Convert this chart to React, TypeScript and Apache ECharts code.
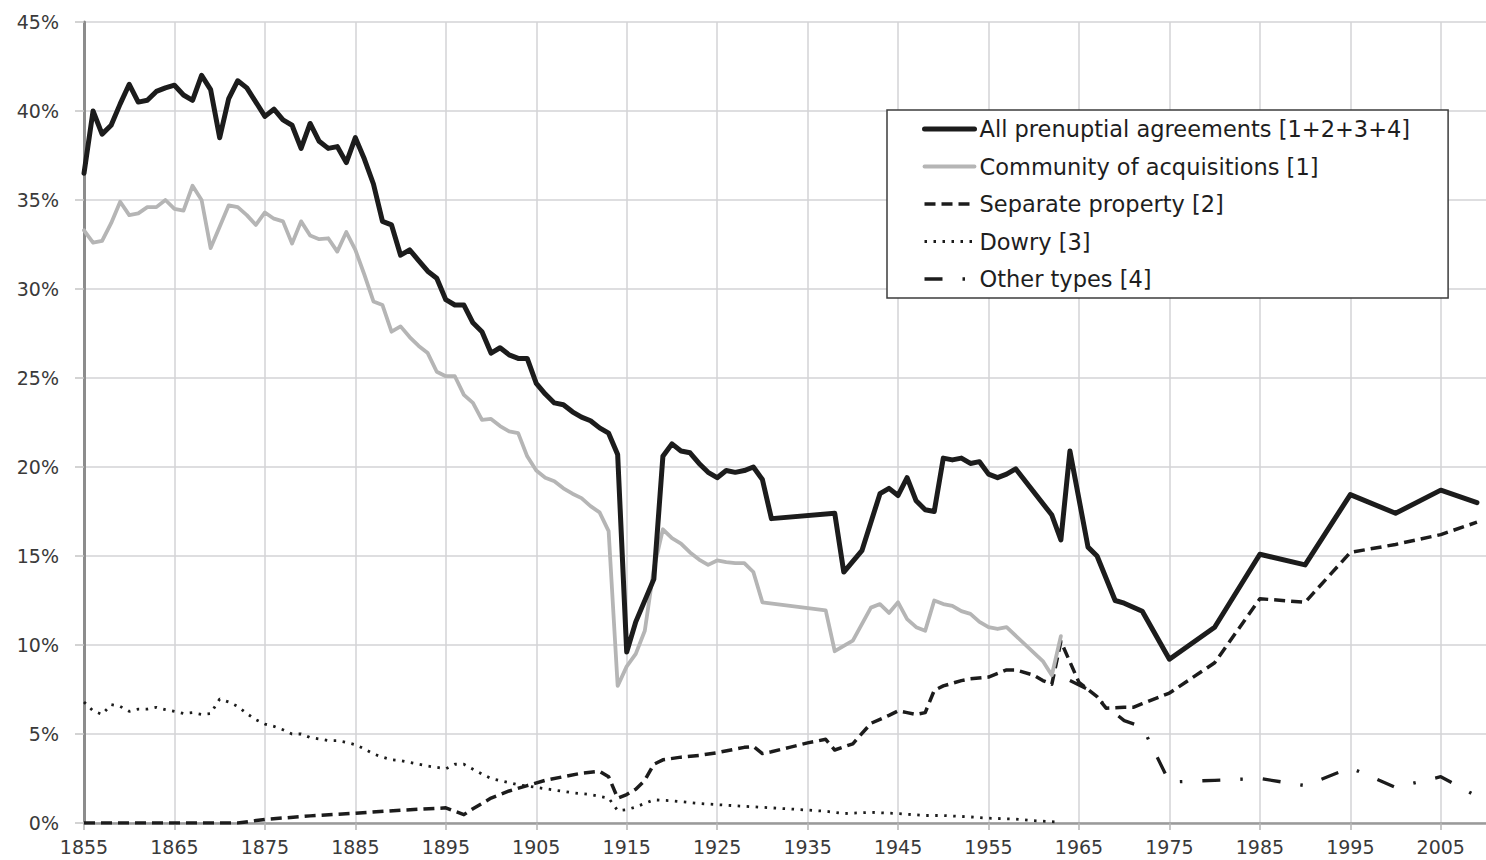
import React, { useEffect, useRef } from "react";
import * as echarts from "echarts";

// ---- Data ----
const seriesNames = [
  "All prenuptial agreements [1+2+3+4]",
  "Community of acquisitions [1]",
  "Separate property [2]",
  "Dowry [3]",
  "Other types [4]",
];

const yTickLabels = ["0%", "5%", "10%", "15%", "20%", "25%", "30%", "35%", "40%", "45%"];

const allYears = [
  1855, 1856, 1857, 1858, 1859, 1860, 1861, 1862, 1863, 1864, 1865, 1866, 1867, 1868, 1869,
  1870, 1871, 1872, 1873, 1874, 1875, 1876, 1877, 1878, 1879, 1880, 1881, 1882, 1883, 1884,
  1885, 1886, 1887, 1888, 1889, 1890, 1891, 1892, 1893, 1894, 1895, 1896, 1897, 1898, 1899,
  1900, 1901, 1902, 1903, 1904, 1905, 1906, 1907, 1908, 1909, 1910, 1911, 1912, 1913, 1914,
  1915, 1916, 1918, 1919, 1920, 1921, 1922, 1923, 1924, 1925, 1926, 1927, 1928, 1929, 1930,
  1931, 1938, 1939, 1941, 1943, 1944, 1945, 1946, 1947, 1948, 1949, 1950, 1951, 1952, 1953,
  1954, 1955, 1956, 1957, 1958, 1962, 1963, 1964, 1966, 1967, 1969, 1970, 1972, 1975, 1980,
  1985, 1990, 1995, 2000, 2005, 2009,
];
const allValues = [
  36.5, 40.0, 38.7, 39.2, 40.4, 41.5, 40.5, 40.6, 41.1, 41.3, 41.45, 40.9, 40.6, 42.0, 41.2,
  38.5, 40.7, 41.7, 41.3, 40.5, 39.7, 40.1, 39.5, 39.2, 37.9, 39.3, 38.3, 37.9, 38.0, 37.1,
  38.5, 37.3, 35.9, 33.8, 33.6, 31.9, 32.2, 31.6, 31.0, 30.6, 29.4, 29.1, 29.1, 28.1, 27.6,
  26.4, 26.7, 26.3, 26.1, 26.1, 24.7, 24.1, 23.6, 23.5, 23.1, 22.8, 22.6, 22.2, 21.9, 20.7,
  9.6, 11.3, 13.7, 20.6, 21.3, 20.9, 20.8, 20.2, 19.7, 19.4, 19.8, 19.7, 19.8, 20.0, 19.3,
  17.1, 17.4, 14.1, 15.3, 18.5, 18.8, 18.4, 19.4, 18.1, 17.6, 17.5, 20.5, 20.4, 20.5, 20.2,
  20.3, 19.6, 19.4, 19.6, 19.9, 17.3, 15.9, 20.9, 15.5, 15.0, 12.5, 12.35, 11.9, 9.2, 11.0,
  15.1, 14.5, 18.45, 17.4, 18.7, 18.0,
];

const communityYears = [
  1855, 1856, 1857, 1858, 1859, 1860, 1861, 1862, 1863, 1864, 1865, 1866, 1867, 1868, 1869,
  1870, 1871, 1872, 1873, 1874, 1875, 1876, 1877, 1878, 1879, 1880, 1881, 1882, 1883, 1884,
  1885, 1886, 1887, 1888, 1889, 1890, 1891, 1892, 1893, 1894, 1895, 1896, 1897, 1898, 1899,
  1900, 1901, 1902, 1903, 1904, 1905, 1906, 1907, 1908, 1909, 1910, 1911, 1912, 1913, 1914,
  1915, 1916, 1917, 1918, 1919, 1920, 1921, 1922, 1923, 1924, 1925, 1926, 1927, 1928, 1929,
  1930, 1937, 1938, 1940, 1942, 1943, 1944, 1945, 1946, 1947, 1948, 1949, 1950, 1951, 1952,
  1953, 1954, 1955, 1956, 1957, 1961, 1962, 1963,
];
const communityValues = [
  33.3, 32.6, 32.7, 33.7, 34.9, 34.15, 34.25, 34.6, 34.6, 35.0, 34.5, 34.4, 35.8, 35.0, 32.3,
  33.5, 34.7, 34.6, 34.15, 33.6, 34.3, 33.95, 33.8, 32.55, 33.8, 33.0, 32.8, 32.85, 32.1, 33.2,
  32.2, 30.8, 29.3, 29.1, 27.6, 27.9, 27.3, 26.8, 26.4, 25.35, 25.1, 25.1, 24.05, 23.6, 22.65,
  22.7, 22.3, 22.0, 21.9, 20.6, 19.8, 19.4, 19.2, 18.8, 18.5, 18.25, 17.8, 17.45, 16.4, 7.7,
  8.8, 9.5, 10.8, 14.3, 16.5, 16.0, 15.7, 15.2, 14.8, 14.5, 14.75, 14.65, 14.6, 14.6, 14.1,
  12.4, 11.95, 9.65, 10.25, 12.1, 12.3, 11.8, 12.4, 11.45, 11.0, 10.8, 12.5, 12.3, 12.2, 11.9,
  11.75, 11.3, 11.0, 10.9, 11.0, 9.1, 8.3, 10.5,
];

const separateYears = [
  1855, 1872, 1875, 1880, 1885, 1890, 1895, 1897, 1898, 1900, 1902, 1904, 1906, 1908, 1910,
  1912, 1913, 1914, 1915, 1916, 1917, 1918, 1919, 1921, 1923, 1925, 1928, 1929, 1930, 1931,
  1933, 1935, 1937, 1938, 1940, 1942, 1944, 1945, 1946, 1947, 1948, 1949, 1950, 1952, 1953,
  1955, 1957, 1958, 1960, 1961, 1962, 1963, 1965, 1966, 1967, 1968, 1970, 1971, 1972, 1975,
  1980, 1985, 1990, 1995, 2000, 2005, 2009,
];
const separateValues = [
  0, 0, 0.2, 0.4, 0.55, 0.72, 0.85, 0.47, 0.8, 1.4, 1.8, 2.1, 2.4, 2.6, 2.8,
  2.9, 2.6, 1.4, 1.6, 1.9, 2.4, 3.3, 3.55, 3.7, 3.8, 3.95, 4.25, 4.3, 3.9, 4.0,
  4.25, 4.5, 4.7, 4.1, 4.45, 5.6, 6.05, 6.3, 6.2, 6.1, 6.2, 7.45, 7.7, 8.0, 8.1,
  8.2, 8.6, 8.6, 8.3, 8.0, 7.8, 10.2, 7.9, 7.5, 7.1, 6.45, 6.5, 6.5, 6.7, 7.3,
  9.0, 12.6, 12.4, 15.2, 15.65, 16.2, 16.9,
];

const dowryYears = [
  1855, 1856, 1857, 1858, 1859, 1860, 1861, 1862, 1863, 1864, 1865, 1866, 1867, 1868, 1869,
  1870, 1871, 1872, 1873, 1874, 1875, 1876, 1877, 1878, 1879, 1880, 1881, 1882, 1883, 1884,
  1885, 1886, 1887, 1888, 1889, 1890, 1891, 1893, 1895, 1896, 1897, 1899, 1900, 1903, 1905,
  1907, 1909, 1911, 1913, 1914, 1915, 1916, 1918, 1920, 1923, 1925, 1927, 1930, 1933, 1937,
  1939, 1942, 1945, 1948, 1950, 1953, 1955, 1958, 1960, 1963,
];
const dowryValues = [
  6.8, 6.3, 6.1, 6.65, 6.55, 6.27, 6.4, 6.4, 6.5, 6.37, 6.27, 6.15, 6.2, 6.1, 6.15,
  6.97, 6.8, 6.55, 6.15, 5.8, 5.56, 5.43, 5.24, 5.0, 5.0, 4.8, 4.72, 4.63, 4.63, 4.53,
  4.4, 4.16, 3.88, 3.7, 3.55, 3.5, 3.4, 3.2, 3.05, 3.3, 3.3, 2.75, 2.5, 2.15, 2.0,
  1.85, 1.7, 1.6, 1.4, 0.7, 0.75, 0.9, 1.3, 1.25, 1.1, 1.03, 0.97, 0.88, 0.79, 0.66,
  0.53, 0.6, 0.53, 0.42, 0.42, 0.34, 0.27, 0.22, 0.13, 0.05,
];

const otherYears = [1964, 1966, 1967, 1970, 1972, 1975, 1980, 1985, 1990, 1995, 2000, 2005, 2009];
const otherValues = [8.0, 7.5, 7.0, 5.75, 5.4, 2.3, 2.4, 2.5, 2.1, 3.1, 2.0, 2.6, 1.5];

const pairs = (xs: number[], ys: number[]) => xs.map((x, i) => [x, ys[i]]);

const FONT = "DejaVu Sans";

export default function App() {
  const ref = useRef<HTMLDivElement>(null);

  useEffect(() => {
    if (!ref.current) return;
    const chart = echarts.init(ref.current, undefined, { renderer: "svg" });

    const lineBase = { type: "line", symbol: "none", showSymbol: false, smooth: false };

    chart.setOption({
      animation: false,
      backgroundColor: "#ffffff",
      grid: { left: 84, right: -8, top: 22, bottom: 37, containLabel: false },
      xAxis: {
        type: "value",
        min: 1855,
        max: 2010,
        interval: 10,
        axisLine: { show: true, onZero: true, lineStyle: { color: "#9a9a9a", width: 2.5 } },
        axisTick: { show: true, inside: false, length: 7, lineStyle: { color: "#b5b5b5", width: 1.5 } },
        axisLabel: {
          show: true,
          showMaxLabel: false,
          margin: 14,
          fontSize: 19,
          fontFamily: FONT,
          color: "#3a3a3a",
          formatter: (v: number) => String(v),
        },
        splitLine: { show: true, showMaxLine: false, lineStyle: { color: "#d3d3d6", width: 1.5 } },
      },
      yAxis: {
        type: "value",
        min: 0,
        max: 45,
        interval: 5,
        axisLine: { show: true, lineStyle: { color: "#8c8c8c", width: 3 } },
        axisTick: { show: true, inside: false, length: 9, lineStyle: { color: "#c4c4c4", width: 1.5 } },
        axisLabel: {
          margin: 25,
          fontSize: 19,
          fontFamily: FONT,
          color: "#3a3a3a",
          formatter: (v: number) => yTickLabels[Math.round(v / 5)] ?? `${v}%`,
        },
        splitLine: { show: true, lineStyle: { color: "#d3d3d6", width: 1.5 } },
      },
      legend: {
        show: true,
        orient: "vertical",
        left: 887,
        top: 110,
        padding: [6, 38, 6, 35],
        itemWidth: 50,
        itemHeight: 14,
        itemGap: 11.5,
        backgroundColor: "#ffffff",
        borderColor: "#3c3c3c",
        borderWidth: 1.5,
        borderRadius: 0,
        itemStyle: { color: "rgba(0,0,0,0)", borderWidth: 0, opacity: 0 },
        textStyle: { fontSize: 22.5, fontFamily: FONT, color: "#1e1e1e", lineHeight: 26 },
        data: [
          { name: seriesNames[0], lineStyle: { width: 5 } },
          { name: seriesNames[1], lineStyle: { width: 3.8 } },
          { name: seriesNames[2], lineStyle: { width: 3.5 } },
          { name: seriesNames[3], lineStyle: { width: 2.8 } },
          { name: seriesNames[4], lineStyle: { width: 3.3 } },
        ],
      },
      series: [
        {
          ...lineBase,
          name: seriesNames[0],
          data: pairs(allYears, allValues),
          color: "#1c1c1c",
          lineStyle: { color: "#1c1c1c", width: 5, cap: "round", join: "round" },
          z: 6,
        },
        {
          ...lineBase,
          name: seriesNames[1],
          data: pairs(communityYears, communityValues),
          color: "#b5b5b5",
          lineStyle: { color: "#b5b5b5", width: 3.8, cap: "round", join: "round" },
          z: 5,
        },
        {
          ...lineBase,
          name: seriesNames[2],
          data: pairs(separateYears, separateValues),
          color: "#1c1c1c",
          lineStyle: { color: "#1c1c1c", width: 3.5, type: [11, 6], join: "round" },
          z: 4,
        },
        {
          ...lineBase,
          name: seriesNames[3],
          data: pairs(dowryYears, dowryValues),
          color: "#1c1c1c",
          lineStyle: { color: "#1c1c1c", width: 2.8, type: [2.5, 6.5] },
          z: 3,
        },
        {
          ...lineBase,
          name: seriesNames[4],
          data: pairs(otherYears, otherValues),
          color: "#1c1c1c",
          lineStyle: { color: "#1c1c1c", width: 3.3, type: [18, 20, 2.5, 20] },
          z: 3,
        },
      ],
    });

    return () => chart.dispose();
  }, []);

  return (
    <div
      ref={ref}
      style={{ position: "fixed", left: 0, top: 0, width: 1486, height: 860, background: "#fff" }}
    />
  );
}
